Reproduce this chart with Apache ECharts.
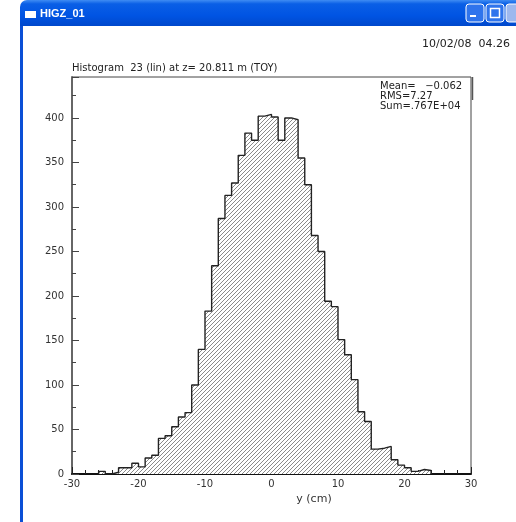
<!DOCTYPE html>
<html>
<head>
<meta charset="utf-8">
<script src="https://cdn.jsdelivr.net/npm/echarts@6/dist/echarts.min.js"></script>
<style>
html,body{margin:0;padding:0;background:#fff;}
#chart{width:516px;height:522px;}
</style>
</head>
<body>
<div id="chart"></div>
<script>
// ---- data ----
const binLow = [-26,-25,-24,-23,-22,-21,-20,-19,-18,-17,-16,-15,-14,-13,-12,-11,-10,-9,-8,-7,-6,-5,-4,-3,-2,-1,
  0,1,2,3,4,5,6,7,8,9,10,11,12,13,14,15,16,17,18,19,20,21,22,23];
const counts = [3,0,2,7,7,12,8,18,21,40,43,53,64,69,100,140,183,234,287,313,327,358,383,375,402,404,
  401,375,400,398,355,325,268,250,194,188,151,134,106,70,59,28,29,31,16,10,7,3,5,4];
const binWidth = 1;
const xTicks = [-30,-20,-10,0,10,20,30];
const yTicks = [0,50,100,150,200,250,300,350,400];
const titleText = 'Histogram  23 (lin) at z= 20.811 m (TOY)';
const dateText = '10/02/08  04.26';
const statsLines = ['Mean=   \u22120.062', 'RMS=7.27', 'Sum=.767E+04'];
const windowTitle = 'HIGZ_01';
const xName = 'y (cm)';

// outline points for step line
const outline = [[binLow[0], 0]];
binLow.forEach((x, i) => outline.push([x, counts[i]]));
outline.push([binLow[binLow.length - 1] + binWidth, 0]);

// hatch pattern
const P = 4;
const cv = document.createElement('canvas');
cv.width = P; cv.height = P;
const cx = cv.getContext('2d');
cx.fillStyle = '#fff';
cx.fillRect(0, 0, P, P);
cx.fillStyle = '#8a8a8a';
for (let i = 0; i < P; i++) cx.fillRect(i, P - 1 - i, 1, 1);

const FONT = 'DejaVu Sans';
const chart = echarts.init(document.getElementById('chart'), null, {renderer: 'canvas'});

const option = {
  animation: false,
  backgroundColor: '#fff',
  grid: {left: 72, top: 77, right: 45, bottom: 48, show: true, borderColor: '#444', borderWidth: 1, backgroundColor: 'transparent'},
  xAxis: {
    type: 'value', min: xTicks[0], max: xTicks[xTicks.length - 1], interval: 10,
    axisLine: {show: true, onZero: false, lineStyle: {color: '#111', width: 2}},
    axisTick: {show: true, inside: true, length: 7, lineStyle: {color: '#222', width: 1}},
    minorTick: {show: true, splitNumber: 5, length: 4, lineStyle: {color: '#222', width: 1}},
    splitLine: {show: false},
    axisLabel: {margin: 5, fontFamily: FONT, fontSize: 10, color: '#333'},
    name: xName, nameLocation: 'middle', nameGap: 15,
    nameTextStyle: {fontFamily: FONT, fontSize: 11, color: '#333', padding: [0, 0, 0, 85]}
  },
  yAxis: {
    type: 'value', min: 0, max: 446, interval: 50,
    axisLine: {show: true, onZero: false, lineStyle: {color: '#666', width: 2}},
    axisTick: {show: true, inside: true, length: 7, lineStyle: {color: '#444', width: 1}},
    minorTick: {show: true, splitNumber: 2, length: 4, lineStyle: {color: '#444', width: 1}},
    splitLine: {show: false},
    axisLabel: {margin: 8, fontFamily: FONT, fontSize: 10, color: '#333', showMaxLabel: false,
      formatter: v => (yTicks.indexOf(v) >= 0 ? String(v) : '')}
  },
  series: [{
    type: 'line', step: 'end', symbol: 'none', data: outline,
    lineStyle: {color: '#222', width: 1.4},
    areaStyle: {color: {image: cv, repeat: 'repeat'}, opacity: 1, origin: 'start'},
    z: 3
  }],
  graphic: [
    {type: 'rect', silent: true, z: 10, shape: {x: 20, y: 0, width: 520, height: 26, r: [7, 7, 0, 0]},
      style: {fill: new echarts.graphic.LinearGradient(0, 0, 0, 1, [
        {offset: 0, color: '#3f8cf3'}, {offset: 0.15, color: '#0a5fe6'}, {offset: 0.6, color: '#0054e3'}, {offset: 1, color: '#0048cc'}])}},
    {type: 'rect', silent: true, z: 10, shape: {x: 20, y: 26, width: 3, height: 500}, style: {fill: '#0a4fd6'}},
    {type: 'rect', silent: true, z: 11, shape: {x: 25, y: 11, width: 11, height: 7}, style: {fill: '#fff'}},
    {type: 'text', silent: true, z: 11, style: {x: 40, y: 14, text: windowTitle, fill: '#fff', font: 'bold 11px "Liberation Sans"', verticalAlign: 'middle'}},
    // window buttons
    {type: 'rect', silent: true, z: 11, shape: {x: 466, y: 4, width: 18, height: 18, r: 3}, style: {fill: '#2f74ec', stroke: '#fff', lineWidth: 1}},
    {type: 'rect', silent: true, z: 12, shape: {x: 470, y: 15, width: 6, height: 2}, style: {fill: '#fff'}},
    {type: 'rect', silent: true, z: 11, shape: {x: 486, y: 4, width: 18, height: 18, r: 3}, style: {fill: '#2f74ec', stroke: '#fff', lineWidth: 1}},
    {type: 'rect', silent: true, z: 12, shape: {x: 490.5, y: 8.5, width: 9, height: 9}, style: {fill: 'none', stroke: '#fff', lineWidth: 1.5}},
    {type: 'rect', silent: true, z: 11, shape: {x: 506, y: 4, width: 18, height: 18, r: 3}, style: {fill: '#9db8ee', stroke: '#fff', lineWidth: 1}},
    // texts
    {type: 'text', silent: true, z: 11, style: {x: 510, y: 44, text: dateText, fill: '#222', font: '11px "DejaVu Sans"', align: 'right', verticalAlign: 'middle'}},
    {type: 'text', silent: true, z: 11, style: {x: 72, y: 68, text: titleText, fill: '#222', font: '10px "DejaVu Sans"', verticalAlign: 'middle'}},
    {type: 'text', silent: true, z: 11, style: {x: 380, y: 86, text: statsLines[0], fill: '#222', font: '10px "DejaVu Sans"', verticalAlign: 'middle'}},
    {type: 'text', silent: true, z: 11, style: {x: 380, y: 96, text: statsLines[1], fill: '#222', font: '10px "DejaVu Sans"', verticalAlign: 'middle'}},
    {type: 'text', silent: true, z: 11, style: {x: 380, y: 106, text: statsLines[2], fill: '#222', font: '10px "DejaVu Sans"', verticalAlign: 'middle'}},
    {type: 'line', silent: true, z: 11, shape: {x1: 472.5, y1: 77, x2: 472.5, y2: 100}, style: {stroke: '#555', lineWidth: 1.5}}
  ]
};
chart.setOption(option);
</script>
</body>
</html>
